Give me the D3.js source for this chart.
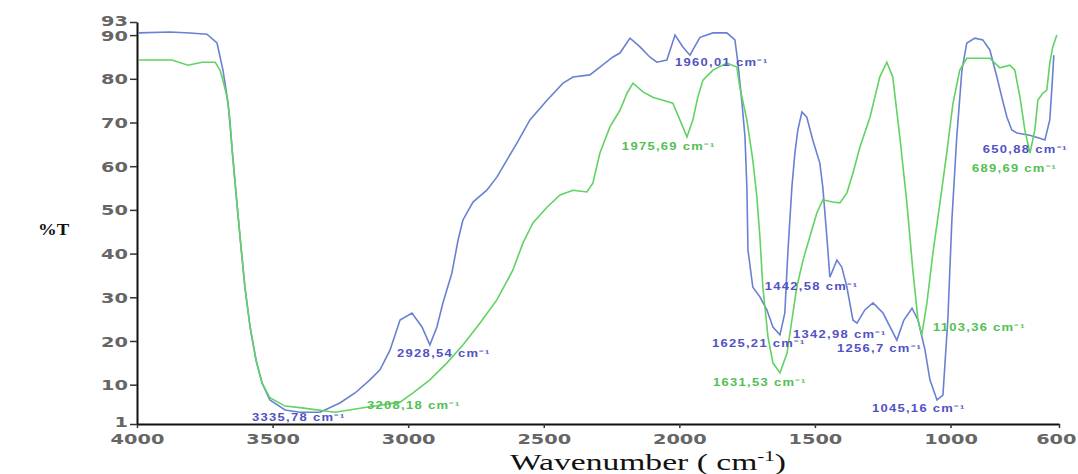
<!DOCTYPE html>
<html>
<head>
<meta charset="utf-8">
<script src="https://cdn.jsdelivr.net/npm/d3@7"></script>
<style>
  body { margin: 0; background: #fff; }
  svg { display: block; }
</style>
</head>
<body>
<svg id="chart"></svg>
<script>
// wavenumber (cm-1), %T
const blueSpectrum = [
  [3993, 90.5], [3878, 90.7], [3805, 90.5], [3742, 90.2], [3705, 88.2], [3683, 82.0],
  [3664, 74.4], [3650, 64.4], [3635, 53.9], [3620, 43.8], [3602, 32.3], [3583, 23.2],
  [3561, 15.6], [3539, 10.4], [3510, 6.5], [3454, 4.2], [3399, 3.7], [3325, 3.7],
  [3252, 5.8], [3196, 8.1], [3141, 11.1], [3104, 13.4], [3067, 17.9], [3030, 24.8],
  [2986, 26.4], [2949, 23.2], [2920, 19.1], [2894, 23.2], [2872, 28.7], [2839, 35.5],
  [2816, 43.1], [2798, 47.7], [2761, 51.8], [2710, 54.5], [2673, 57.5], [2636, 61.4],
  [2599, 65.3], [2551, 70.6], [2488, 75.1], [2429, 79.0], [2392, 80.4], [2330, 80.9],
  [2293, 82.7], [2245, 85.0], [2219, 85.9], [2182, 89.3], [2145, 87.3], [2109, 85.0],
  [2083, 83.8], [2046, 84.3], [2016, 90.0], [1987, 87.3], [1961, 85.4], [1924, 89.5],
  [1876, 90.5], [1825, 90.5], [1795, 88.9], [1784, 83.6], [1769, 74.4], [1758, 66.7],
  [1751, 55.2], [1747, 40.8], [1729, 32.3], [1703, 30.1], [1677, 27.1], [1655, 23.2],
  [1629, 21.4], [1611, 26.4], [1600, 40.1], [1585, 55.2], [1574, 63.0], [1563, 68.3],
  [1548, 72.4], [1530, 71.2], [1508, 66.0], [1482, 60.7], [1471, 55.2], [1456, 43.8],
  [1445, 34.6], [1419, 38.5], [1401, 36.9], [1382, 32.3], [1360, 24.8], [1345, 24.1],
  [1316, 27.1], [1286, 28.7], [1249, 26.4], [1198, 20.2], [1172, 24.8], [1142, 27.5],
  [1120, 24.8], [1094, 17.9], [1076, 11.1], [1050, 6.5], [1028, 7.6], [1010, 24.8],
  [995, 47.7], [977, 66.7], [958, 82.0], [940, 88.2], [910, 89.3], [881, 88.9],
  [855, 86.6], [829, 80.4], [811, 75.8], [792, 71.2], [774, 68.3], [755, 67.6],
  [708, 67.1], [671, 66.4], [652, 66.0], [634, 70.6], [626, 78.1], [619, 85.4]
];

const greenSpectrum = [
  [3993, 84.3], [3871, 84.3], [3812, 83.1], [3760, 83.8], [3712, 83.8], [3694, 82.0],
  [3683, 79.6], [3668, 75.8], [3657, 70.6], [3650, 64.4], [3635, 53.9], [3620, 43.8],
  [3602, 32.3], [3583, 23.2], [3561, 15.6], [3539, 10.4], [3510, 7.0], [3454, 5.1],
  [3392, 4.7], [3270, 3.7], [3148, 4.9], [3104, 5.3], [3030, 6.0], [2982, 8.1],
  [2920, 11.1], [2857, 15.0], [2798, 19.1], [2735, 24.1], [2673, 29.4], [2614, 36.2],
  [2577, 42.4], [2540, 47.0], [2488, 50.6], [2440, 53.4], [2392, 54.5], [2341, 54.1],
  [2319, 56.1], [2293, 63.0], [2256, 69.0], [2219, 72.8], [2193, 76.7], [2171, 79.0],
  [2134, 77.0], [2098, 75.8], [2061, 75.1], [2024, 74.4], [1998, 70.6], [1972, 66.7],
  [1950, 70.6], [1932, 75.8], [1913, 79.7], [1876, 82.0], [1825, 83.6], [1788, 82.7],
  [1777, 78.1], [1751, 70.6], [1729, 61.4], [1714, 52.9], [1703, 43.8], [1692, 32.3],
  [1673, 20.9], [1655, 15.0], [1629, 12.7], [1603, 17.2], [1585, 24.8], [1567, 32.3],
  [1544, 38.5], [1519, 43.8], [1493, 49.3], [1471, 52.3], [1434, 51.8], [1408, 51.6],
  [1382, 53.9], [1360, 58.4], [1334, 64.4], [1297, 71.2], [1261, 80.4], [1235, 83.8],
  [1213, 80.4], [1187, 66.7], [1161, 51.6], [1139, 36.2], [1120, 24.8], [1106, 21.4],
  [1087, 28.7], [1065, 40.1], [1039, 51.6], [1014, 63.0], [991, 74.4], [966, 82.0],
  [940, 84.7], [855, 84.7], [818, 82.5], [781, 83.1], [763, 82.0], [744, 75.8],
  [726, 68.3], [707, 63.0], [689, 68.3], [678, 75.1], [660, 76.7], [645, 77.4],
  [634, 83.6], [623, 87.3], [608, 90.0]
];

// peak labels: text, anchor wavenumber, anchor %T, series
const peakLabels = [
  ["3335,78", 3576, 1.7, "blue"],
  ["3208,18", 3152, 4.4, "green"],
  ["2928,54", 3041, 16.3, "blue"],
  ["1975,69", 2212, 63.7, "green"],
  ["1960,01", 2016, 82.9, "blue"],
  ["650,88", 881, 63.0, "blue"],
  ["689,69", 921, 58.7, "green"],
  ["1442,58", 1685, 31.7, "blue"],
  ["1342,98", 1581, 20.7, "blue"],
  ["1625,21", 1880, 18.6, "blue"],
  ["1256,7", 1419, 17.5, "blue"],
  ["1103,36", 1065, 22.3, "green"],
  ["1631,53", 1876, 9.7, "green"],
  ["1045,16", 1290, 3.7, "blue"]
];

const xTicks = [4000, 3500, 3000, 2500, 2000, 1500, 1000, 600];
const yTicks = [1, 10, 20, 30, 40, 50, 60, 70, 80, 90, 93];

const W = 1078, H = 474;
const lineColor = { blue: "#6a80d2", green: "#62d262" };
const labelColor = { blue: "#5252c4", green: "#52c052" };
const stretch = 1.38;

const svg = d3.select("#chart").attr("width", W).attr("height", H);

const x = d3.scaleLinear().domain([4000, 600]).range([137, 1059]);
const y = d3.scaleLinear().domain([1, 93]).range([424, 22]);

const line = d3.line().x(d => x(d[0])).y(d => y(d[1]));

svg.append("path").datum(blueSpectrum)
  .attr("d", line).attr("fill", "none")
  .attr("stroke", lineColor.blue).attr("stroke-width", 1.6);

svg.append("path").datum(greenSpectrum)
  .attr("d", line).attr("fill", "none")
  .attr("stroke", lineColor.green).attr("stroke-width", 1.6);

// axes
const xAxis = svg.append("g")
  .attr("transform", `translate(0,${y(1)})`)
  .call(d3.axisBottom(x).tickValues(xTicks).tickFormat(d3.format("d"))
    .tickSize(4).tickPadding(2).tickSizeOuter(0));

const yAxis = svg.append("g")
  .attr("transform", `translate(${x(4000)},0)`)
  .call(d3.axisLeft(y).tickValues(yTicks).tickFormat(d3.format("d"))
    .tickSize(7).tickPadding(3).tickSizeOuter(0));

[xAxis, yAxis].forEach(g => {
  g.select(".domain").attr("stroke", "#111").attr("stroke-width", 2);
  g.selectAll(".tick line").attr("stroke", "#333").attr("stroke-width", 1.5);
  g.selectAll(".tick text")
    .attr("fill", "#666")
    .attr("font-family", "DejaVu Sans")
    .attr("font-weight", "bold")
    .attr("font-size", 14);
});

xAxis.selectAll(".tick text")
  .attr("y", 0).attr("dy", 0)
  .attr("transform", `translate(0,20) scale(${stretch},1)`);

// last label sits against the right edge
xAxis.selectAll(".tick").filter(d => d === 600).select("text")
  .attr("text-anchor", "end")
  .attr("transform", `translate(${W - 2 - x(600)},20) scale(${stretch},1)`);

yAxis.selectAll(".tick text")
  .attr("x", 0).attr("dy", "0.36em")
  .attr("transform", `translate(-9,0) scale(${stretch},1)`);

yAxis.selectAll(".tick").filter(d => d === 93).select("text")
  .attr("dy", "0.22em");

yAxis.selectAll(".tick").filter(d => d === 1).select("text")
  .attr("dy", "0.2em");

// peak labels
svg.append("g").selectAll("text")
  .data(peakLabels).enter().append("text")
  .attr("transform", d => `translate(${x(d[1])},${y(d[2])}) scale(1.3,1)`)
  .attr("fill", d => labelColor[d[3]])
  .attr("font-family", "Liberation Sans")
  .attr("font-weight", "bold")
  .attr("font-size", 10)
  .attr("letter-spacing", 1)
  .text(d => d[0] + " cm⁻¹");

// axis titles
svg.append("text")
  .attr("transform", "translate(38,235) scale(1.1,1)")
  .attr("font-family", "Liberation Serif")
  .attr("font-weight", "bold")
  .attr("font-size", 17)
  .attr("fill", "#111")
  .text("%T");

const title = svg.append("text")
  .attr("transform", "translate(648,470) scale(1.4,1)")
  .attr("text-anchor", "middle")
  .attr("font-family", "Liberation Serif")
  .attr("font-size", 24)
  .attr("fill", "#111");
title.append("tspan").text("Wavenumber ( cm");
title.append("tspan").attr("font-size", 15).attr("dy", -9).text("-1");
title.append("tspan").attr("dy", 9).text(")");
</script>
</body>
</html>
